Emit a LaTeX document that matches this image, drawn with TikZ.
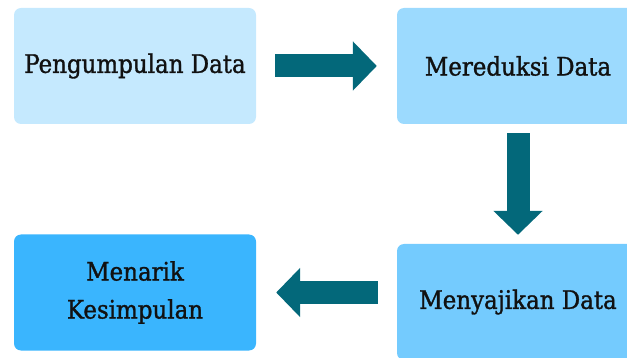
\documentclass[tikz,border=0pt]{standalone}
\usepackage{fontspec}
\setmainfont{DejaVu Serif Condensed}
\newfontfamily\stagefont[FakeBold=1.2]{DejaVu Serif Condensed}
\usetikzlibrary{positioning, arrows.meta}
\definecolor{cpale}{HTML}{C5E9FE}
\definecolor{clight}{HTML}{9CDAFE}
\definecolor{cmid}{HTML}{74CBFE}
\definecolor{cdeep}{HTML}{3AB5FE}
\definecolor{cteal}{HTML}{03687A}
\definecolor{cink}{HTML}{111111}

\begin{document}
\begin{tikzpicture}[
  x=1pt, y=-1pt,
  font=\stagefont\fontsize{25.5}{38}\selectfont,
  stage/.style={
    fill=#1, text=cink, rounded corners=7pt, minimum width=242pt,
    minimum height=116pt, align=center, inner sep=0pt
  },
  flow/.style={
    draw=cteal, line width=23pt,
    -{Triangle[length=24pt, width=48pt]},
    shorten <=19pt, shorten >=20pt
  }
]
\useasboundingbox (0,0) rectangle (627,358);
\clip (0,0) rectangle (627,358);

% ============================================================
% Stages
% ============================================================
\node[stage=cpale] (collect) at (135, 66) {Pengumpulan Data};
\node[stage=clight] (reduce) at (518, 66) {Mereduksi Data};
\node[stage=cmid] (present) at (518, 302) {Menyajikan Data};
\node[stage=cdeep] (conclude) at (135, 292.5) {Menarik\\Kesimpulan};

% ============================================================
% Block arrows between stages
% ============================================================
\draw[flow] (collect.east) -- (reduce.west);
\draw[flow, shorten <=9pt, shorten >=9pt] (reduce.south) -- (present.north);
\draw[flow] (conclude.east -| present.west) -- (conclude.east);

\end{tikzpicture}
\end{document}
